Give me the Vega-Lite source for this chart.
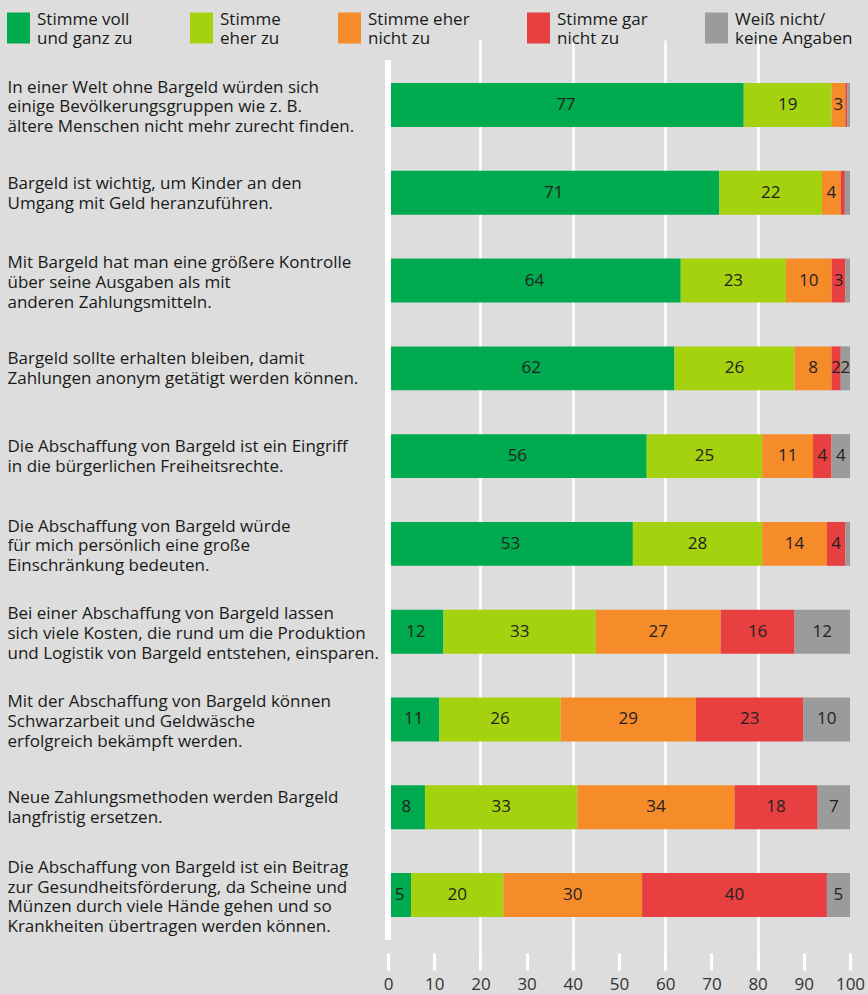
{
  "$schema": "https://vega.github.io/schema/vega-lite/v6.json",
  "width": 462,
  "height": 930,
  "autosize": {"type": "none"},
  "padding": {"left": 388, "top": 40, "right": 18, "bottom": 24},
  "background": "#dcdddc",
  "config": {"view": {"stroke": null}, "font": "Open Sans"},
  "datasets": {
    "main": [
      {"s": "In einer Welt ohne Bargeld würden sich|einige Bevölkerungsgruppen wie z. B.|ältere Menschen nicht mehr zurecht finden.", "c": "Stimme voll|und ganz zu", "k": 1, "v": 77},
      {"s": "In einer Welt ohne Bargeld würden sich|einige Bevölkerungsgruppen wie z. B.|ältere Menschen nicht mehr zurecht finden.", "c": "Stimme|eher zu", "k": 2, "v": 19},
      {"s": "In einer Welt ohne Bargeld würden sich|einige Bevölkerungsgruppen wie z. B.|ältere Menschen nicht mehr zurecht finden.", "c": "Stimme eher|nicht zu", "k": 3, "v": 3},
      {"s": "In einer Welt ohne Bargeld würden sich|einige Bevölkerungsgruppen wie z. B.|ältere Menschen nicht mehr zurecht finden.", "c": "Stimme gar|nicht zu", "k": 4, "v": 0.4},
      {"s": "In einer Welt ohne Bargeld würden sich|einige Bevölkerungsgruppen wie z. B.|ältere Menschen nicht mehr zurecht finden.", "c": "Weiß nicht/|keine Angaben", "k": 5, "v": 0.6},
      {"s": "Bargeld ist wichtig, um Kinder an den|Umgang mit Geld heranzuführen.", "c": "Stimme voll|und ganz zu", "k": 1, "v": 71},
      {"s": "Bargeld ist wichtig, um Kinder an den|Umgang mit Geld heranzuführen.", "c": "Stimme|eher zu", "k": 2, "v": 22},
      {"s": "Bargeld ist wichtig, um Kinder an den|Umgang mit Geld heranzuführen.", "c": "Stimme eher|nicht zu", "k": 3, "v": 4},
      {"s": "Bargeld ist wichtig, um Kinder an den|Umgang mit Geld heranzuführen.", "c": "Stimme gar|nicht zu", "k": 4, "v": 0.9},
      {"s": "Bargeld ist wichtig, um Kinder an den|Umgang mit Geld heranzuführen.", "c": "Weiß nicht/|keine Angaben", "k": 5, "v": 1.1},
      {"s": "Mit Bargeld hat man eine größere Kontrolle|über seine Ausgaben als mit|anderen Zahlungsmitteln.", "c": "Stimme voll|und ganz zu", "k": 1, "v": 64},
      {"s": "Mit Bargeld hat man eine größere Kontrolle|über seine Ausgaben als mit|anderen Zahlungsmitteln.", "c": "Stimme|eher zu", "k": 2, "v": 23},
      {"s": "Mit Bargeld hat man eine größere Kontrolle|über seine Ausgaben als mit|anderen Zahlungsmitteln.", "c": "Stimme eher|nicht zu", "k": 3, "v": 10},
      {"s": "Mit Bargeld hat man eine größere Kontrolle|über seine Ausgaben als mit|anderen Zahlungsmitteln.", "c": "Stimme gar|nicht zu", "k": 4, "v": 3},
      {"s": "Mit Bargeld hat man eine größere Kontrolle|über seine Ausgaben als mit|anderen Zahlungsmitteln.", "c": "Weiß nicht/|keine Angaben", "k": 5, "v": 1},
      {"s": "Bargeld sollte erhalten bleiben, damit|Zahlungen anonym getätigt werden können.", "c": "Stimme voll|und ganz zu", "k": 1, "v": 62},
      {"s": "Bargeld sollte erhalten bleiben, damit|Zahlungen anonym getätigt werden können.", "c": "Stimme|eher zu", "k": 2, "v": 26},
      {"s": "Bargeld sollte erhalten bleiben, damit|Zahlungen anonym getätigt werden können.", "c": "Stimme eher|nicht zu", "k": 3, "v": 8},
      {"s": "Bargeld sollte erhalten bleiben, damit|Zahlungen anonym getätigt werden können.", "c": "Stimme gar|nicht zu", "k": 4, "v": 2},
      {"s": "Bargeld sollte erhalten bleiben, damit|Zahlungen anonym getätigt werden können.", "c": "Weiß nicht/|keine Angaben", "k": 5, "v": 2},
      {"s": "Die Abschaffung von Bargeld ist ein Eingriff|in die bürgerlichen Freiheitsrechte.", "c": "Stimme voll|und ganz zu", "k": 1, "v": 56},
      {"s": "Die Abschaffung von Bargeld ist ein Eingriff|in die bürgerlichen Freiheitsrechte.", "c": "Stimme|eher zu", "k": 2, "v": 25},
      {"s": "Die Abschaffung von Bargeld ist ein Eingriff|in die bürgerlichen Freiheitsrechte.", "c": "Stimme eher|nicht zu", "k": 3, "v": 11},
      {"s": "Die Abschaffung von Bargeld ist ein Eingriff|in die bürgerlichen Freiheitsrechte.", "c": "Stimme gar|nicht zu", "k": 4, "v": 4},
      {"s": "Die Abschaffung von Bargeld ist ein Eingriff|in die bürgerlichen Freiheitsrechte.", "c": "Weiß nicht/|keine Angaben", "k": 5, "v": 4},
      {"s": "Die Abschaffung von Bargeld würde|für mich persönlich eine große|Einschränkung bedeuten.", "c": "Stimme voll|und ganz zu", "k": 1, "v": 53},
      {"s": "Die Abschaffung von Bargeld würde|für mich persönlich eine große|Einschränkung bedeuten.", "c": "Stimme|eher zu", "k": 2, "v": 28},
      {"s": "Die Abschaffung von Bargeld würde|für mich persönlich eine große|Einschränkung bedeuten.", "c": "Stimme eher|nicht zu", "k": 3, "v": 14},
      {"s": "Die Abschaffung von Bargeld würde|für mich persönlich eine große|Einschränkung bedeuten.", "c": "Stimme gar|nicht zu", "k": 4, "v": 4},
      {"s": "Die Abschaffung von Bargeld würde|für mich persönlich eine große|Einschränkung bedeuten.", "c": "Weiß nicht/|keine Angaben", "k": 5, "v": 1},
      {"s": "Bei einer Abschaffung von Bargeld lassen|sich viele Kosten, die rund um die Produktion|und Logistik von Bargeld entstehen, einsparen.", "c": "Stimme voll|und ganz zu", "k": 1, "v": 12},
      {"s": "Bei einer Abschaffung von Bargeld lassen|sich viele Kosten, die rund um die Produktion|und Logistik von Bargeld entstehen, einsparen.", "c": "Stimme|eher zu", "k": 2, "v": 33},
      {"s": "Bei einer Abschaffung von Bargeld lassen|sich viele Kosten, die rund um die Produktion|und Logistik von Bargeld entstehen, einsparen.", "c": "Stimme eher|nicht zu", "k": 3, "v": 27},
      {"s": "Bei einer Abschaffung von Bargeld lassen|sich viele Kosten, die rund um die Produktion|und Logistik von Bargeld entstehen, einsparen.", "c": "Stimme gar|nicht zu", "k": 4, "v": 16},
      {"s": "Bei einer Abschaffung von Bargeld lassen|sich viele Kosten, die rund um die Produktion|und Logistik von Bargeld entstehen, einsparen.", "c": "Weiß nicht/|keine Angaben", "k": 5, "v": 12},
      {"s": "Mit der Abschaffung von Bargeld können|Schwarzarbeit und Geldwäsche|erfolgreich bekämpft werden.", "c": "Stimme voll|und ganz zu", "k": 1, "v": 11},
      {"s": "Mit der Abschaffung von Bargeld können|Schwarzarbeit und Geldwäsche|erfolgreich bekämpft werden.", "c": "Stimme|eher zu", "k": 2, "v": 26},
      {"s": "Mit der Abschaffung von Bargeld können|Schwarzarbeit und Geldwäsche|erfolgreich bekämpft werden.", "c": "Stimme eher|nicht zu", "k": 3, "v": 29},
      {"s": "Mit der Abschaffung von Bargeld können|Schwarzarbeit und Geldwäsche|erfolgreich bekämpft werden.", "c": "Stimme gar|nicht zu", "k": 4, "v": 23},
      {"s": "Mit der Abschaffung von Bargeld können|Schwarzarbeit und Geldwäsche|erfolgreich bekämpft werden.", "c": "Weiß nicht/|keine Angaben", "k": 5, "v": 10},
      {"s": "Neue Zahlungsmethoden werden Bargeld|langfristig ersetzen.", "c": "Stimme voll|und ganz zu", "k": 1, "v": 8},
      {"s": "Neue Zahlungsmethoden werden Bargeld|langfristig ersetzen.", "c": "Stimme|eher zu", "k": 2, "v": 33},
      {"s": "Neue Zahlungsmethoden werden Bargeld|langfristig ersetzen.", "c": "Stimme eher|nicht zu", "k": 3, "v": 34},
      {"s": "Neue Zahlungsmethoden werden Bargeld|langfristig ersetzen.", "c": "Stimme gar|nicht zu", "k": 4, "v": 18},
      {"s": "Neue Zahlungsmethoden werden Bargeld|langfristig ersetzen.", "c": "Weiß nicht/|keine Angaben", "k": 5, "v": 7},
      {"s": "Die Abschaffung von Bargeld ist ein Beitrag|zur Gesundheitsförderung, da Scheine und|Münzen durch viele Hände gehen und so|Krankheiten übertragen werden können.", "c": "Stimme voll|und ganz zu", "k": 1, "v": 5},
      {"s": "Die Abschaffung von Bargeld ist ein Beitrag|zur Gesundheitsförderung, da Scheine und|Münzen durch viele Hände gehen und so|Krankheiten übertragen werden können.", "c": "Stimme|eher zu", "k": 2, "v": 20},
      {"s": "Die Abschaffung von Bargeld ist ein Beitrag|zur Gesundheitsförderung, da Scheine und|Münzen durch viele Hände gehen und so|Krankheiten übertragen werden können.", "c": "Stimme eher|nicht zu", "k": 3, "v": 30},
      {"s": "Die Abschaffung von Bargeld ist ein Beitrag|zur Gesundheitsförderung, da Scheine und|Münzen durch viele Hände gehen und so|Krankheiten übertragen werden können.", "c": "Stimme gar|nicht zu", "k": 4, "v": 40},
      {"s": "Die Abschaffung von Bargeld ist ein Beitrag|zur Gesundheitsförderung, da Scheine und|Münzen durch viele Hände gehen und so|Krankheiten übertragen werden können.", "c": "Weiß nicht/|keine Angaben", "k": 5, "v": 5}
    ],
    "edge": [
      {"s": "In einer Welt ohne Bargeld würden sich|einige Bevölkerungsgruppen wie z. B.|ältere Menschen nicht mehr zurecht finden.", "s2": "Die Abschaffung von Bargeld ist ein Beitrag|zur Gesundheitsförderung, da Scheine und|Münzen durch viele Hände gehen und so|Krankheiten übertragen werden können."}
    ]
  },
  "layer": [
    {
      "data": {"name": "main"},
      "mark": {"type": "bar"},
      "encoding": {
        "y": {
          "field": "s", "type": "nominal", "sort": null,
          "scale": {"paddingInner": 0.5, "paddingOuter": 0.547, "align": 0.448},
          "axis": {
            "title": null, "domain": false, "ticks": false, "grid": false,
            "labelAlign": "left", "labelBaseline": "middle", "labelPadding": 381,
            "labelLimit": 400, "labelFontSize": 17, "labelColor": "#1a1a1a",
            "labelLineHeight": 19.7, "labelExpr": "split(datum.label, '|')",
            "labelOffset": {
              "condition": [
                {"test": "length(split(datum.label, '|')) == 2", "value": -8.85},
                {"test": "length(split(datum.label, '|')) == 3", "value": -17.3},
                {"test": "length(split(datum.label, '|')) == 4", "value": -27}
              ],
              "value": 1
            }
          }
        },
        "x": {
          "field": "v", "type": "quantitative", "stack": "normalize",
          "scale": {"domain": [0, 1], "nice": false},
          "axis": {
            "title": null, "orient": "bottom", "offset": -17,
            "values": [0, 0.1, 0.2, 0.3, 0.4, 0.5, 0.6, 0.7, 0.8, 0.9, 1],
            "labelExpr": "format(datum.value * 100, 'd')",
            "domain": false, "tickColor": "white", "tickWidth": 3, "tickSize": 17,
            "labelPadding": 6, "labelFontSize": 17, "labelColor": "#333333",
            "labelFlush": false, "labelOverlap": false,
            "grid": true, "gridColor": "white", "gridWidth": 2.5,
            "gridOpacity": {"condition": {"test": "round(datum.value * 10) % 2 == 0 && datum.value > 0.05 && datum.value < 0.95", "value": 1}, "value": 0}
          }
        },
        "color": {
          "field": "c", "type": "nominal",
          "scale": {
            "domain": ["Stimme voll|und ganz zu", "Stimme|eher zu", "Stimme eher|nicht zu", "Stimme gar|nicht zu", "Weiß nicht/|keine Angaben"],
            "range": ["#00aa4f", "#a5d20e", "#f68b2a", "#e84040", "#9b9b9b"]
          },
          "legend": {
            "title": null, "orient": "none", "legendX": -385, "legendY": -27.5,
            "direction": "horizontal", "columns": 5, "columnPadding": 53,
            "symbolType": "M-0.742,-1H0.742V1H-0.742Z", "symbolSize": 961,
            "symbolStrokeWidth": 0, "symbolOpacity": 1,
            "labelFontSize": 17, "labelColor": "#1a1a1a", "labelLineHeight": 19.5,
            "labelOffset": 3, "labelLimit": 250, "labelExpr": "split(datum.label, '|')",
            "encode": {"labels": {"update": {"dy": {"value": -8.5}}}}
          }
        },
        "order": {"field": "k", "type": "quantitative"}
      }
    },
    {
      "data": {"name": "main"},
      "mark": {"type": "text", "fontSize": 17, "color": "#222222"},
      "encoding": {
        "y": {"field": "s", "type": "nominal", "sort": null},
        "x": {"field": "v", "type": "quantitative", "stack": "normalize", "bandPosition": 0.5},
        "detail": {"field": "c", "type": "nominal"},
        "order": {"field": "k", "type": "quantitative"},
        "text": {"condition": {"test": "datum.v < 2", "value": ""}, "field": "v", "type": "quantitative", "format": ".0f"}
      }
    },
    {
      "data": {"name": "edge"},
      "mark": {"type": "rule", "color": "white", "strokeWidth": 6},
      "encoding": {
        "x": {"datum": 0},
        "y": {"field": "s", "type": "nominal", "sort": null, "bandPosition": -0.52},
        "y2": {"field": "s2", "bandPosition": 1.52}
      }
    }
  ]
}
